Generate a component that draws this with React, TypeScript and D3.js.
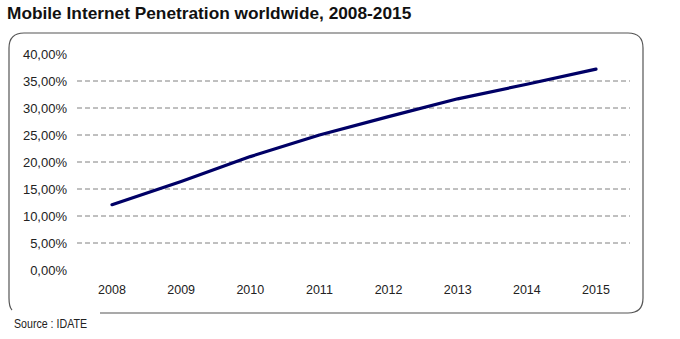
import React from "react";
import * as d3 from "d3";

const years = ["2008", "2009", "2010", "2011", "2012", "2013", "2014", "2015"];
const penetration = [12.1, 16.4, 21.0, 25.0, 28.4, 31.7, 34.4, 37.2];
const yTicks = [0, 5, 10, 15, 20, 25, 30, 35, 40];
const gridTicks = [5, 10, 15, 20, 25, 30, 35];

export default function App() {
  const W = 680, H = 339;
  const x = d3.scalePoint<string>().domain(years).range([112, 596]);
  const y = d3.scaleLinear().domain([0, 40]).range([270, 54]);
  const line = d3
    .line<number>()
    .x((_, i) => x(years[i]) as number)
    .y((d) => y(d));
  const fmt = (v: number) => v.toFixed(2).replace(".", ",") + "%";

  const bx0 = 9, by0 = 33, bx1 = 643, by1 = 313, r = 15;
  const box = `M100,${by1} L${bx1 - r},${by1} Q${bx1},${by1} ${bx1},${by1 - r} L${bx1},${by0 + r} Q${bx1},${by0} ${bx1 - r},${by0} L${bx0 + r},${by0} Q${bx0},${by0} ${bx0},${by0 + r} L${bx0},${by1 - 15} Q${bx0},${by1 - 6} 12,${by1 - 3}`;

  return (
    <svg
      width={W}
      height={H}
      style={{ position: "absolute", left: 0, top: 0, background: "#fff" }}
      fontFamily="'Liberation Sans', Arial, sans-serif"
    >
      <rect width={W} height={H} fill="#fff" />
      <text x={7} y={19} fontSize={17.3} fontWeight="bold" fill="#111">
        Mobile Internet Penetration worldwide, 2008-2015
      </text>
      <path d={box} fill="none" stroke="#555" strokeWidth={1.2} />
      {gridTicks.map((t) => (
        <line
          key={t}
          x1={77}
          x2={630}
          y1={y(t)}
          y2={y(t)}
          stroke="#808080"
          strokeWidth={1}
          strokeDasharray="5,3"
        />
      ))}
      {yTicks.map((t) => (
        <text key={t} x={67} y={y(t)} dy="0.35em" textAnchor="end" fontSize={13} fill="#222">
          {fmt(t)}
        </text>
      ))}
      {years.map((yr) => (
        <text key={yr} x={x(yr)} y={294} textAnchor="middle" fontSize={12.5} fill="#222">
          {yr}
        </text>
      ))}
      <path d={line(penetration) || ""} fill="none" stroke="#000066" strokeWidth={3.2} strokeLinecap="round" strokeLinejoin="round" />
      <text x={14} y={328} fontSize={13} fill="#222" textLength={73} lengthAdjust="spacingAndGlyphs">
        Source : IDATE
      </text>
    </svg>
  );
}
